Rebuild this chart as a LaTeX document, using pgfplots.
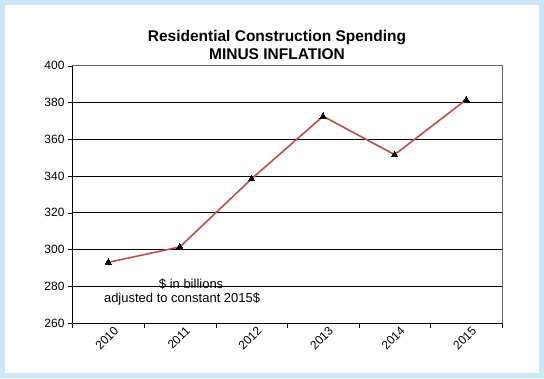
\documentclass[border=0pt]{standalone}
\usepackage{pgfplots}
\pgfplotsset{compat=1.18}
\usepackage{fontspec}
\setmainfont{Liberation Sans}
\definecolor{bordblue}{RGB}{204,232,252}
\definecolor{linered}{RGB}{190,78,75}
\begin{document}
\begin{tikzpicture}[x=1pt,y=1pt]
\fill[bordblue] (0,0) rectangle (544,378);
\fill[white] (4.5,5) rectangle (539,373);
\node[font=\bfseries\fontsize{15.5}{17.5}\selectfont, align=center] at (277,333) {Residential Construction Spending\\MINUS INFLATION};
\begin{axis}[
  at={(72.5pt,55pt)}, anchor=south west,
  scale only axis, width=429.5pt, height=257.3pt,
  xmin=-0.5, xmax=5.5, ymin=260, ymax=400,
  ytick={260,280,...,400},
  xtick={0,...,5},
  xticklabels={2010,2011,2012,2013,2014,2015},
  minor xtick={-0.5,0.5,...,5.5},
  major x tick style={draw=none},
  tick align=outside, major tick length=4.5pt, minor tick length=4.5pt,
  ytick pos=left, xtick pos=bottom,
  ymajorgrids, grid style={black, line width=0.8pt},
  axis line style={gray!80!black},
  tick style={black},
  ticklabel style={font=\fontsize{12}{13}\selectfont},
  /pgf/number format/assume math mode=true,
  xticklabel style={rotate=45, anchor=north east, xshift=6pt, yshift=-1pt, inner sep=1pt},
  clip=false,
]
\addplot[color=linered, line width=1.6pt, mark=triangle*, mark size=3.6pt,
  mark options={black, fill=black, line width=0pt}]
  coordinates {(0,293.0) (1,301.4) (2,338.4) (3,372.5) (4,351.6) (5,381.5)};
\node[font=\fontsize{13}{15}\selectfont] at (axis cs:1.157,281.3) {\$ in billions};
\node[font=\fontsize{13}{15}\selectfont] at (axis cs:1.031,273.1) {adjusted to constant 2015\$};
\draw[black, line width=0.8pt] (rel axis cs:0,0) -- (rel axis cs:0,1);
\draw[black, line width=0.8pt] (rel axis cs:0,0) -- (rel axis cs:1,0);
\end{axis}
\end{tikzpicture}
\end{document}
